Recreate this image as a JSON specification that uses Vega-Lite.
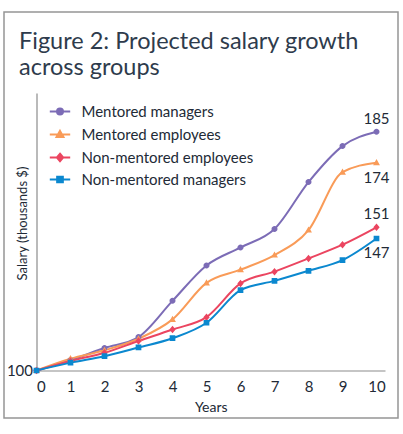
{
  "$schema": "https://vega.github.io/schema/vega-lite/v6.json",
  "width": 394,
  "height": 406,
  "autosize": {"type": "none"},
  "padding": {"left": 4, "top": 12, "right": 5, "bottom": 16},
  "background": "white",
  "title": {
    "text": ["Figure 2: Projected salary growth", "across groups"],
    "anchor": "start",
    "frame": "group",
    "baseline": "top",
    "offset": -67,
    "dx": 15,
    "font": "Lato",
    "fontSize": 23.5,
    "fontWeight": "normal",
    "lineHeight": 26,
    "color": "#2e3b4c"
  },
  "data": {
    "values": [
      {"series": "Mentored managers", "year": 0, "salary": 100},
      {"series": "Mentored managers", "year": 1, "salary": 103.7},
      {"series": "Mentored managers", "year": 2, "salary": 108},
      {"series": "Mentored managers", "year": 3, "salary": 111.9},
      {"series": "Mentored managers", "year": 4, "salary": 124.8},
      {"series": "Mentored managers", "year": 5, "salary": 137.4},
      {"series": "Mentored managers", "year": 6, "salary": 143.8},
      {"series": "Mentored managers", "year": 7, "salary": 150.4},
      {"series": "Mentored managers", "year": 8, "salary": 167.1},
      {"series": "Mentored managers", "year": 9, "salary": 179.9},
      {"series": "Mentored managers", "year": 10, "salary": 185},
      {"series": "Mentored employees", "year": 0, "salary": 100},
      {"series": "Mentored employees", "year": 1, "salary": 104.2},
      {"series": "Mentored employees", "year": 2, "salary": 107.2},
      {"series": "Mentored employees", "year": 3, "salary": 111.3},
      {"series": "Mentored employees", "year": 4, "salary": 118.2},
      {"series": "Mentored employees", "year": 5, "salary": 131.2},
      {"series": "Mentored employees", "year": 6, "salary": 135.9},
      {"series": "Mentored employees", "year": 7, "salary": 141.1},
      {"series": "Mentored employees", "year": 8, "salary": 150},
      {"series": "Mentored employees", "year": 9, "salary": 170.6},
      {"series": "Mentored employees", "year": 10, "salary": 174},
      {"series": "Non-mentored employees", "year": 0, "salary": 100},
      {"series": "Non-mentored employees", "year": 1, "salary": 103.4},
      {"series": "Non-mentored employees", "year": 2, "salary": 106.3},
      {"series": "Non-mentored employees", "year": 3, "salary": 110.5},
      {"series": "Non-mentored employees", "year": 4, "salary": 114.6},
      {"series": "Non-mentored employees", "year": 5, "salary": 119},
      {"series": "Non-mentored employees", "year": 6, "salary": 131},
      {"series": "Non-mentored employees", "year": 7, "salary": 135.2},
      {"series": "Non-mentored employees", "year": 8, "salary": 139.9},
      {"series": "Non-mentored employees", "year": 9, "salary": 144.8},
      {"series": "Non-mentored employees", "year": 10, "salary": 151},
      {"series": "Non-mentored managers", "year": 0, "salary": 100},
      {"series": "Non-mentored managers", "year": 1, "salary": 102.8},
      {"series": "Non-mentored managers", "year": 2, "salary": 105.1},
      {"series": "Non-mentored managers", "year": 3, "salary": 108.2},
      {"series": "Non-mentored managers", "year": 4, "salary": 111.5},
      {"series": "Non-mentored managers", "year": 5, "salary": 117},
      {"series": "Non-mentored managers", "year": 6, "salary": 128.6},
      {"series": "Non-mentored managers", "year": 7, "salary": 131.9},
      {"series": "Non-mentored managers", "year": 8, "salary": 135.5},
      {"series": "Non-mentored managers", "year": 9, "salary": 139.3},
      {"series": "Non-mentored managers", "year": 10, "salary": 147}
    ]
  },
  "encoding": {
    "x": {
      "field": "year",
      "type": "quantitative",
      "scale": {"domain": [0, 10.25], "range": [32.5, 381], "nice": false, "zero": false},
      "axis": {
        "title": "Years",
        "values": [0, 1, 2, 3, 4, 5, 6, 7, 8, 9, 10],
        "offset": -47.5,
        "grid": false,
        "ticks": false,
        "labelPadding": 9,
        "titlePadding": 6
      }
    },
    "y": {
      "field": "salary",
      "type": "quantitative",
      "scale": {"domain": [100, 198.8], "range": [358.5, 81], "nice": false, "zero": false},
      "axis": {
        "title": "Salary (thousands $)",
        "values": [100],
        "offset": -32.5,
        "grid": false,
        "ticks": false,
        "labelPadding": 4,
        "titleAngle": -90,
        "titleX": -14,
        "titleY": 211,
        "titleFontSize": 13,
        "titleAlign": "center",
        "titleBaseline": "middle"
      }
    },
    "color": {
      "field": "series",
      "type": "nominal",
      "scale": {
        "domain": ["Mentored managers", "Mentored employees", "Non-mentored employees", "Non-mentored managers"],
        "range": ["#7c6cb6", "#f99b58", "#eb4560", "#0b88cf"]
      },
      "legend": {
        "title": null,
        "orient": "none",
        "legendX": 48.5,
        "legendY": 92,
        "padding": 0,
        "symbolSize": 36,
        "symbolStrokeWidth": 2,
        "labelOffset": 14,
        "labelLimit": 0,
        "rowPadding": 6,
        "labelFontSize": 15,
        "labelColor": "#222a36",
        "labelFont": "Lato",
        "encode": {
          "symbols": {"update": {"stroke": {"scale": "color", "field": "value"}}}
        }
      }
    }
  },
  "layer": [
    {
      "mark": {"type": "line", "interpolate": "monotone", "strokeWidth": 2}
    },
    {
      "mark": {"type": "point", "filled": true, "size": 36, "opacity": 1},
      "encoding": {
        "shape": {
          "field": "series",
          "type": "nominal",
          "scale": {
            "domain": ["Mentored managers", "Mentored employees", "Non-mentored employees", "Non-mentored managers"],
            "range": [
              "M-3.4,0H3.4M-1,0A1,1 0 1,1 1,0A1,1 0 1,1 -1,0Z",
              "M-3.4,0H3.4M0,-1.2L1.15,0.85L-1.15,0.85Z",
              "M-3.4,0H3.4M0,-1.25L1.05,0L0,1.25L-1.05,0Z",
              "M-3.4,0H3.4M-0.95,-0.95H0.95V0.95H-0.95Z"
            ]
          },
          "legend": null
        }
      }
    },
    {
      "transform": [
        {"filter": "datum.year == 10 && (datum.series == 'Mentored managers' || datum.series == 'Non-mentored employees')"}
      ],
      "mark": {"type": "text", "dy": -13, "fontSize": 15, "font": "Lato", "color": "#222a36"},
      "encoding": {
        "text": {"field": "salary", "type": "quantitative", "format": ".0f"},
        "color": {"value": "#222a36"}
      }
    },
    {
      "transform": [
        {"filter": "datum.year == 10 && (datum.series == 'Mentored employees' || datum.series == 'Non-mentored managers')"}
      ],
      "mark": {"type": "text", "dy": 15, "fontSize": 15, "font": "Lato", "color": "#222a36"},
      "encoding": {
        "text": {"field": "salary", "type": "quantitative", "format": ".0f"},
        "color": {"value": "#222a36"}
      }
    }
  ],
  "config": {
    "view": {"stroke": "#959595", "strokeWidth": 1.5},
    "axis": {
      "domainColor": "#8c8c8c",
      "domainWidth": 1.2,
      "labelFont": "Lato",
      "labelFontSize": 15,
      "labelColor": "#222a36",
      "titleFont": "Lato",
      "titleFontSize": 14,
      "titleFontWeight": "normal",
      "titleColor": "#222a36"
    }
  }
}
